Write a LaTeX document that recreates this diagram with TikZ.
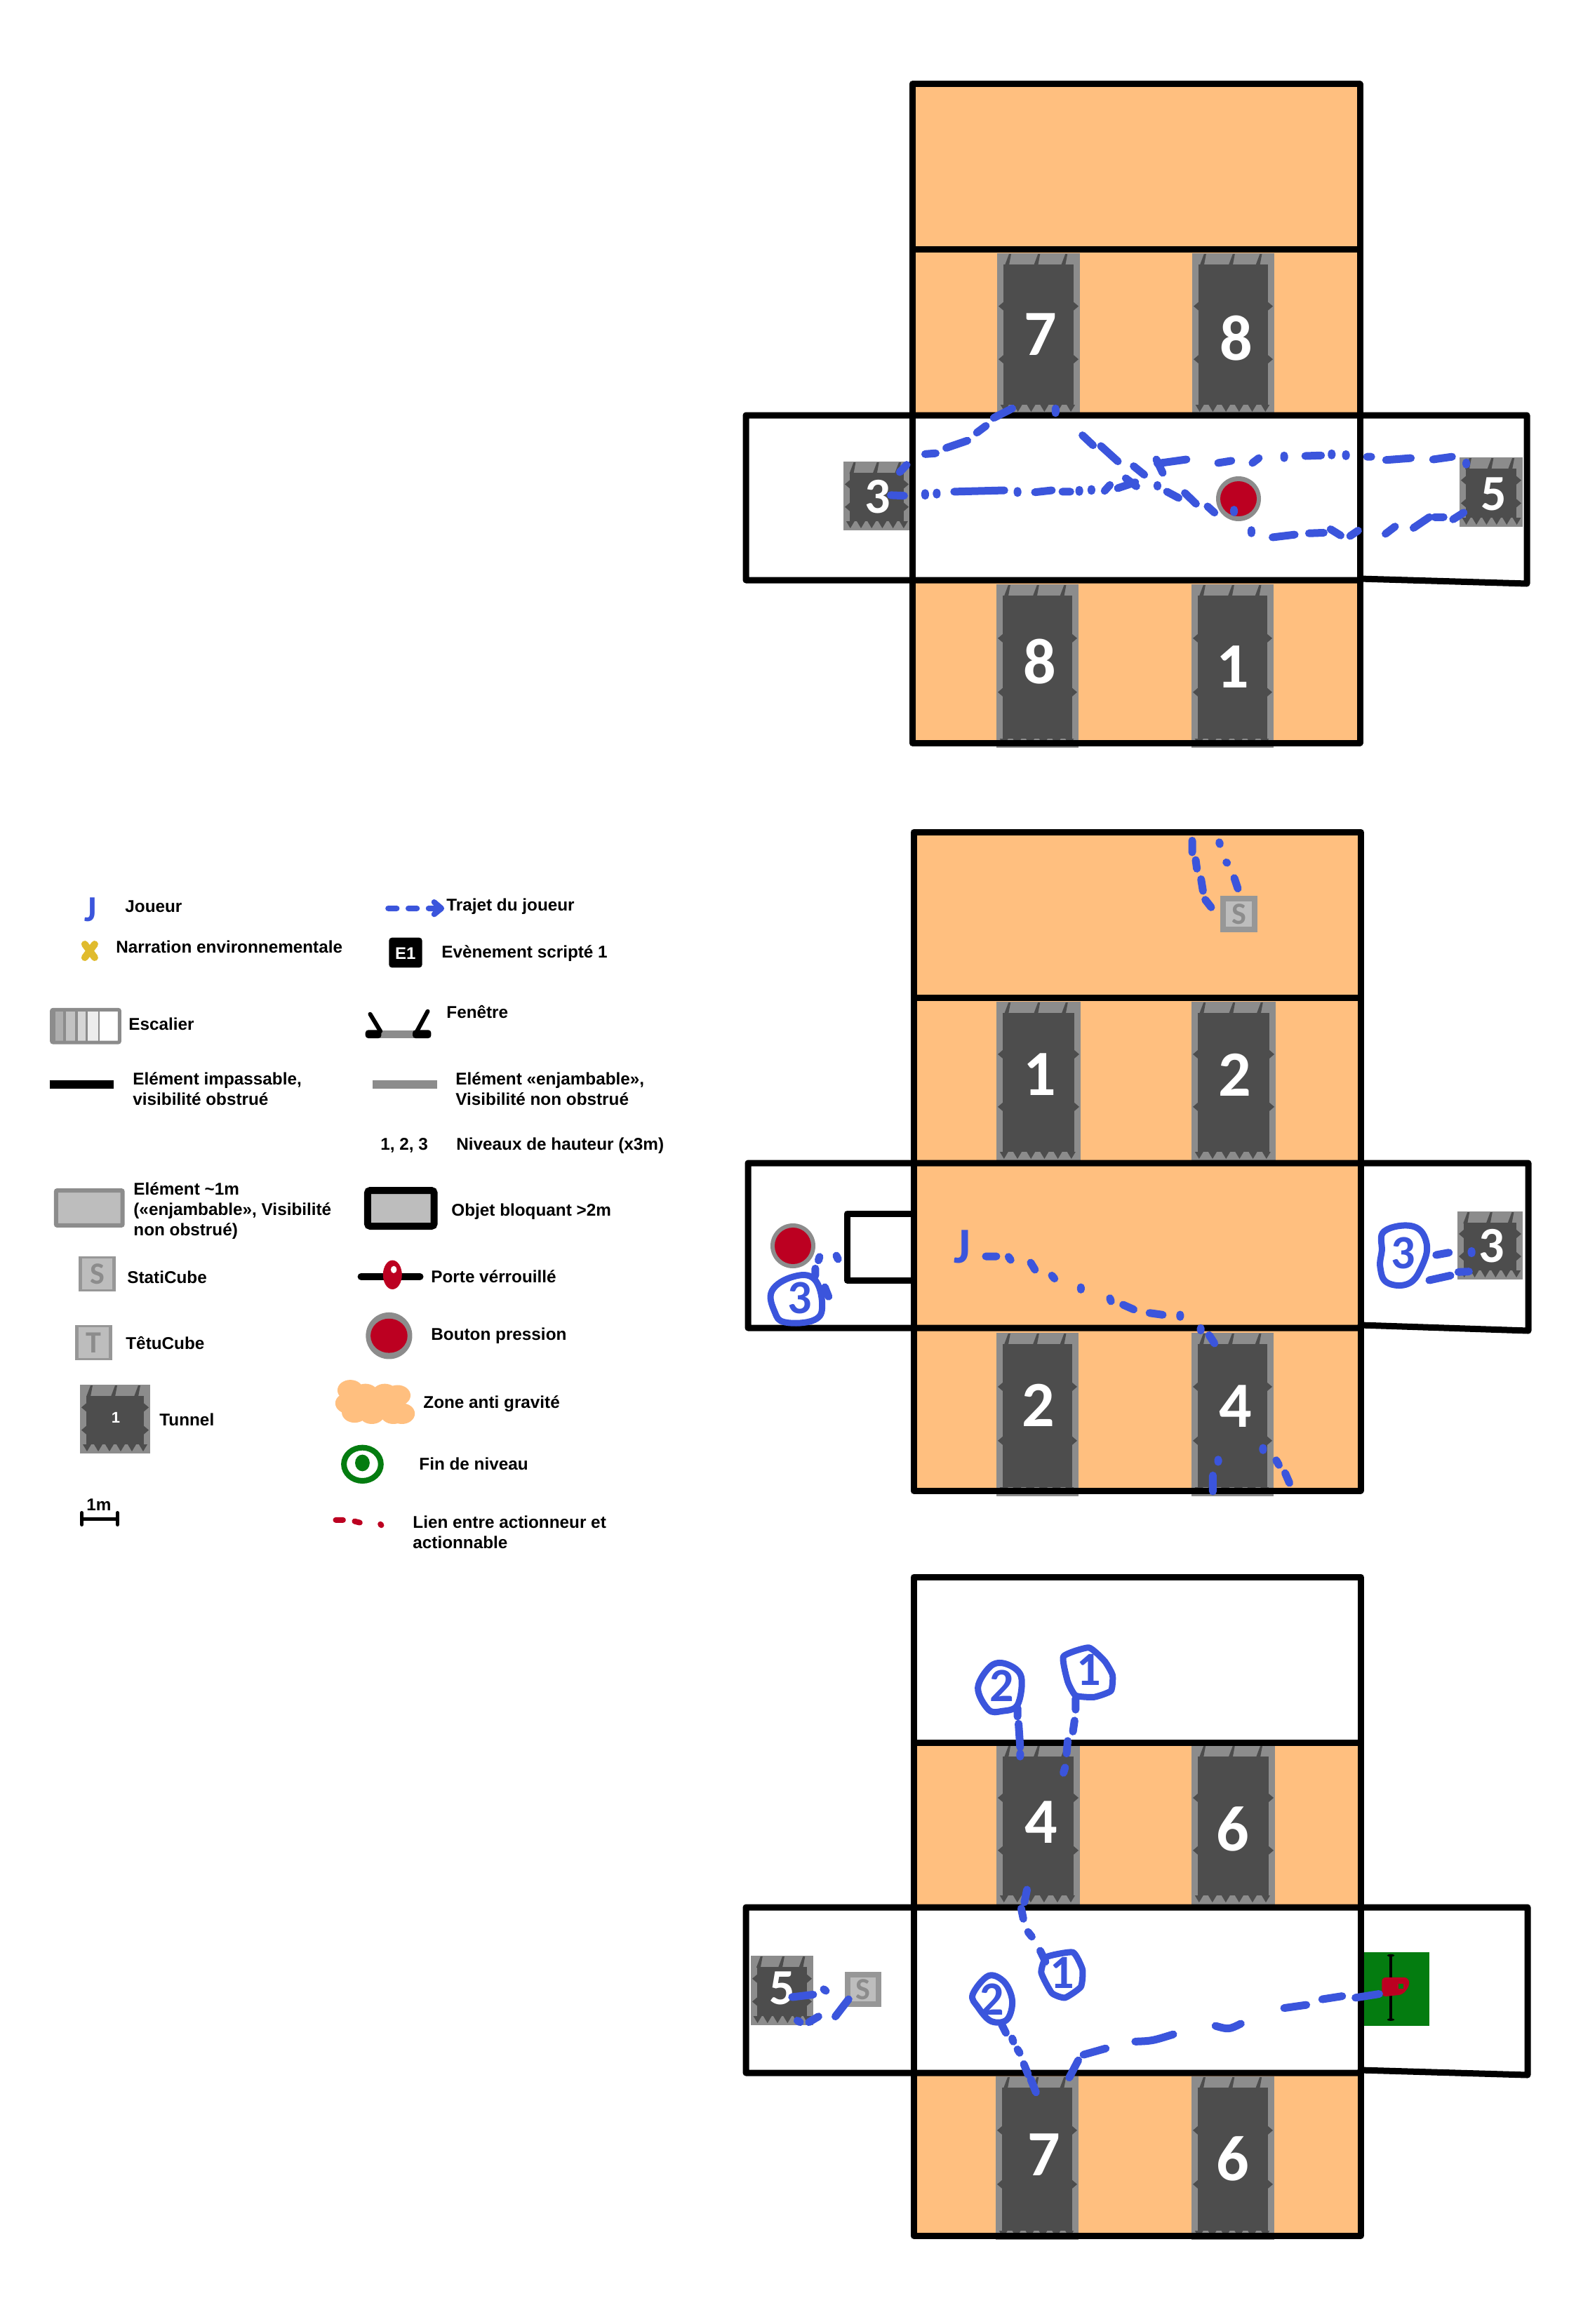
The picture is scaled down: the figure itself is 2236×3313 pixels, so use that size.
\documentclass[tikz,border=0pt]{standalone}
\usepackage{fontspec}
\setmainfont{Liberation Sans}
\newfontfamily\handfont{Carlito}
\definecolor{zone}{HTML}{FFBF7F}
\definecolor{tgray}{HTML}{8C8C8C}
\definecolor{tdark}{HTML}{4D4D4D}
\definecolor{trailblue}{HTML}{3B55DC}
\definecolor{btnred}{HTML}{BC0021}
\definecolor{cubeface}{HTML}{BDBDBD}
\definecolor{endgreen}{HTML}{047C10}
\definecolor{narr}{HTML}{E0BB2E}
\tikzset{
  wall/.style={draw=black,line width=4.5pt,line cap=round,line join=round},
  trail/.style={draw=trailblue,line width=5.5pt,line cap=round,line join=round},
  ring/.style={draw=trailblue,line width=4.5pt,line cap=round,line join=round},
  digit/.style={text=white,font=\handfont\bfseries\fontsize{46}{46}\selectfont,inner sep=0pt},
  smalldigit/.style={text=white,font=\handfont\bfseries\fontsize{36}{36}\selectfont,inner sep=0pt},
  bluedigit/.style={text=trailblue,font=\handfont\bfseries\fontsize{34}{34}\selectfont,inner sep=0pt},
  legtext/.style={anchor=west,align=left,inner sep=0pt,font=\bfseries\fontsize{12.15}{14.5}\selectfont},
  zA/.style={shift={(1040,500)},x=0.3762pt,y=-0.19135pt},
  zD/.style={shift={(1040,1640)},x=0.3762pt,y=-0.16667pt},
  zE/.style={shift={(1040,2330)},x=0.3762pt,y=-0.2232pt},
  zB/.style={shift={(40,1240)},x=0.3062pt,y=-0.16667pt},
  zC/.style={shift={(40,1660)},x=0.3062pt,y=-0.18498pt},
  zG/.style={shift={(1640,1170)},x=0.16667pt,y=-0.16667pt},
}
% tunnel: x1 y1 x2 y2
\newcommand\tunnelbody[4]{%
  \pgfmathsetmacro\tw{#3-#1}\pgfmathsetmacro\th{#4-#2}%
  \begin{scope}[shift={(#1,#2)}]
    \fill[tgray] (0,0) rectangle (\tw,\th);
    \fill[tdark] (9,16) rectangle (\tw-9,\th-13);
    \foreach \f in {0.11,0.46,0.79}{
      \fill[tdark] (\tw*\f-2,17) -- (\tw*\f+4,1) -- (\tw*\f+7,1) -- (\tw*\f+4,17) -- cycle;}
    \foreach \f in {0.04,0.2,0.36,0.52,0.68,0.84}{
      \fill[tdark] (\tw*\f,\th-13) -- (\tw*\f+6,\th-3) -- (\tw*\f+12,\th-13) -- cycle;}
    \foreach \f in {0.33,0.66}{
      \fill[tdark] (9,\th*\f-6) -- (2,\th*\f) -- (9,\th*\f+6) -- cycle;
      \fill[tdark] (\tw-9,\th*\f-6) -- (\tw-2,\th*\f) -- (\tw-9,\th*\f+6) -- cycle;}
  \end{scope}}
% cube: x1 y1 x2 y2 letter
\newcommand\cube[5]{%
  \fill[tgray!90!white] (#1,#2) rectangle (#3,#4);
  \fill[cubeface] (#1+8,#2+8) rectangle (#3-8,#4-8);
  \node[text=tgray,font=\handfont\bfseries\fontsize{22}{22}\selectfont,inner sep=0pt] at ({(#1+#3)/2},{(#2+#4)/2}) {#5};}
\begin{document}
\begin{tikzpicture}[x=0.5pt,y=-0.5pt]
\useasboundingbox (0,0) rectangle (2236,3313);
\fill[white] (0,0) rectangle (2236,3313);

%% PANEL 1
\fill[zone] (1300,120) rectangle (1938,592);
\fill[zone] (1300,827) rectangle (1938,1059);
\tunnelbody{1421}{361}{1539}{590}
\tunnelbody{1699}{361}{1816}{590}
\tunnelbody{1420}{833}{1537}{1066}
\tunnelbody{1698}{833}{1815}{1066}
\tunnelbody{1202}{658}{1297}{756}
\tunnelbody{2080}{652}{2170}{751}
\draw[wall] (1300,120) rectangle (1938,355);
\draw[wall] (1300,355) -- (1300,1059) -- (1938,1059) -- (1938,355);
\draw[wall] (1938,827) -- (1063,827) -- (1063,592) -- (2176,592) -- (2176,832) -- (1938,825);
\node[digit] (p1n7) at (1483,477) {7};
\node[digit] (p1n8) at (1762,482) {8};
\node[digit] (p1n8b) at (1482,943) {8};
\node[digit] (p1n1) at (1757,951) {1};
\node[smalldigit] (p1n3) at (1251,708) {3};
\node[smalldigit] (p1n5) at (2129,704) {5};
\fill[tgray] (1765,711) ellipse [x radius=32,y radius=32];
\fill[btnred] (1765,711) ellipse [x radius=26,y radius=25];
\begin{scope}[zA]
\draw[trail] (322,452)--(335,425) (370,385)--(390,382) (410,362)--(450,335) (468,305)--(485,280)
 (500,250)--(535,215) (617,215)--(617,232) (668,315)--(688,352) (703,355)--(735,412)
 (765,430)--(785,462) (810,500)--(810,506) (828,525)--(850,548) (862,530)--(883,570)
 (905,580)--(918,603) (955,592)--(955,602) (988,668)--(988,680) (1028,695)--(1070,685)
 (1097,680)--(1125,678) (1138,665)--(1157,688) (1175,690)--(1190,670) (1242,682)--(1260,655)
 (1295,660)--(1325,620) (1335,620)--(1352,620) (1370,628)--(1390,603);
\draw[trail] (305,538)--(330,540) (370,530)--(370,540) (392,528)--(392,536) (425,525)--(520,520)
 (545,522)--(545,530) (578,527)--(610,520) (630,525)--(645,525) (662,518)--(662,526)
 (685,515)--(685,522) (710,522)--(720,500) (735,512)--(768,490) (750,475)--(770,505)
 (808,405)--(820,455) (810,420)--(865,405) (925,418)--(950,410) (990,418)--(1002,400)
 (1050,390)--(1050,400) (1090,392)--(1120,390) (1140,382)--(1140,390) (1167,385)--(1167,393)
 (1207,395)--(1215,395) (1243,407)--(1290,400) (1332,405)--(1368,395) (1395,416)--(1395,424);
\end{scope}

%% PANEL 2
\fill[zone] (1302,1186) rectangle (1939,2125);
\tunnelbody{1420}{1428}{1540}{1655}
\tunnelbody{1698}{1428}{1818}{1655}
\tunnelbody{1420}{1900}{1537}{2133}
\tunnelbody{1698}{1900}{1815}{2133}
\tunnelbody{2077}{1727}{2170}{1824}
\draw[wall] (1302,1186) -- (1939,1186) -- (1939,1422) -- (1302,1422) -- cycle;
\draw[wall] (1302,1422) -- (1302,2125) -- (1939,2125) -- (1939,1422);
\draw[wall] (1939,1893) -- (1066,1893) -- (1066,1658) -- (2178,1658) -- (2178,1897) -- (1939,1889);
\draw[wall] (1302,1730) -- (1207,1730) -- (1207,1825) -- (1302,1825);
\node[digit] (p2n1) at (1482,1532) {1};
\node[digit] (p2n2) at (1760,1532) {2};
\node[digit] (p2n2b) at (1480,2003) {2};
\node[digit] (p2n4) at (1761,2005) {4};
\node[smalldigit] (p2n3) at (2126,1776) {3};
\fill[tgray] (1130,1776) ellipse [x radius=32,y radius=32];
\fill[btnred] (1130,1776) ellipse [x radius=26,y radius=26];
\cube{1739}{1277}{1792}{1329}{S}
\begin{scope}[zG]
\draw[trail] (177,85)--(177,135) (192,168)--(197,205) (215,250)--(223,300) (233,338)--(258,370)
 (293,92)--(295,100) (323,178)--(326,180) (357,245)--(372,290);
\end{scope}
\begin{scope}[zD]
\node[text=trailblue,font=\handfont\bfseries\fontsize{36}{36}\selectfont,inner sep=0pt] (p2j) at (440,412) {J};
\draw[trail] (485,453)--(505,453) (528,455)--(532,468) (570,480)--(578,510) (610,535)--(615,548)
 (665,585)--(665,595) (720,632)--(722,645) (745,660)--(765,680) (795,695)--(820,703)
 (853,702)--(853,712) (892,760)--(892,770) (908,790)--(918,825)
 (925,1322)--(925,1332) (915,1390)--(915,1458) (1010,1272)--(1010,1282) (1035,1325)--(1040,1345) (1052,1380)--(1060,1422)
 (202,450)--(205,465) (170,455)--(168,470) (162,505)--(162,535) (180,585)--(187,625)
 (1338,447)--(1362,437) (1405,430)--(1405,440) (1325,555)--(1365,535) (1380,520)--(1400,518);
\draw[ring] plot[smooth cycle,tension=0.7] coordinates {(1235,430) (1240,345) (1295,325) (1320,400) (1310,500) (1285,570) (1245,565) (1232,500)};
\draw[ring] plot[smooth cycle,tension=0.7] coordinates {(80,600) (120,540) (160,550) (175,660) (160,725) (105,735) (85,690)};
\node[bluedigit] (p2c3r) at (1275,438) {3};
\node[bluedigit] (p2c3l) at (133,632) {3};
\end{scope}

%% PANEL 3
\fill[zone] (1302,2484) rectangle (1939,2720);
\fill[zone] (1302,2955) rectangle (1939,3187);
\tunnelbody{1420}{2488}{1539}{2715}
\tunnelbody{1698}{2488}{1817}{2715}
\tunnelbody{1419}{2960}{1537}{3193}
\tunnelbody{1698}{2960}{1816}{3193}
\tunnelbody{1070}{2788}{1159}{2887}
\fill[endgreen] (1943,2783) rectangle (2037,2888);
\draw[wall] (1302,2248) -- (1939,2248) -- (1939,2484) -- (1302,2484) -- cycle;
\draw[wall] (1302,2484) -- (1302,3187) -- (1939,3187) -- (1939,2484);
\draw[wall] (1939,2955) -- (1063,2955) -- (1063,2719) -- (2177,2719) -- (2177,2958) -- (1939,2951);
\node[digit] (p3n4) at (1484,2598) {4};
\node[digit] (p3n6) at (1757,2607) {6};
\node[digit] (p3n7) at (1488,3072) {7};
\node[digit] (p3n6b) at (1757,3077) {6};
\node[smalldigit] (p3n5) at (1115,2834) {5};
\cube{1204}{2811}{1256}{2861}{S}
\begin{scope}[zE]
\draw[black,line width=2pt] (1252,1025) -- (1252,1230);
\fill[black] (1252,1025) ellipse [x radius=7,y radius=4];
\fill[black] (1252,1230) ellipse [x radius=7,y radius=4];
\fill[btnred,rounded corners=3pt] (1235,1095) -- (1285,1095) -- (1288,1120) -- (1275,1150) -- (1235,1157) -- cycle;
\fill[endgreen] (1266,1115) rectangle (1276,1132);
\draw[trail] (545,235)--(545,262) (547,285)--(550,360) (550,380)--(550,390) (655,205)--(655,240)
 (653,275)--(650,310) (640,340)--(638,380) (635,425)--(632,442)
 (563,815)--(558,855) (552,875)--(556,908) (565,950)--(572,965) (588,1010)--(598,1045)
 (515,1245)--(523,1272) (535,1290)--(537,1300) (545,1325)--(549,1336) (557,1372)--(565,1405) (570,1420)--(580,1462)
 (643,1415)--(660,1360) (670,1342)--(712,1322) (768,1300) .. controls (800,1298) .. (840,1277)
 (920,1250) .. controls (945,1262) .. (968,1243) (1050,1193)--(1092,1183) (1122,1165)--(1160,1155) (1185,1160)--(1230,1148)
 (118,1158)--(158,1150) (178,1133)--(182,1138) (128,1233)--(133,1238) (150,1238)--(168,1220) (200,1220)--(225,1165);
\draw[ring] plot[smooth cycle,tension=0.6] coordinates {(470,170) (495,100) (525,95) (552,135) (545,225) (515,245) (490,240)};
\draw[ring] plot[smooth cycle,tension=0.3] coordinates {(632,70) (680,42) (710,85) (725,130) (722,180) (690,200) (655,195) (640,150)};
\draw[ring] plot[smooth cycle,tension=0.3] coordinates {(590,1080) (600,1030) (650,1015) (668,1070) (665,1125) (635,1160) (610,1145)};
\draw[ring] plot[smooth cycle,tension=0.6] coordinates {(460,1150) (490,1090) (520,1110) (535,1170) (525,1230) (495,1235) (470,1190)};
\node[bluedigit] (p3c2t) at (515,165) {2};
\node[bluedigit] (p3c1t) at (680,112) {1};
\node[bluedigit] (p3c1m) at (630,1080) {1};
\node[bluedigit] (p3c2b) at (497,1165) {2};
\end{scope}

%% LEGEND
\node[legtext] (lJ) at (178,1292) {Joueur};
\node[legtext] (lT) at (636,1292) {Trajet du joueur};
\node[legtext] (lN) at (165,1350) {Narration environnementale};
\node[legtext] (lE) at (629,1359) {Evènement scripté 1};
\node[legtext] (lS) at (183,1460) {Escalier};
\node[legtext] (lF) at (636,1443) {Fenêtre};
\node[legtext] (lI) at (189,1552) {Elément impassable,\\visibilité obstrué};
\node[legtext] (lV) at (649,1552) {Elément «enjambable»,\\Visibilité non obstrué};
\node[legtext] (lH) at (542,1633) {1, 2, 3};
\node[legtext] (lN3) at (650,1633) {Niveaux de hauteur (x3m)};
\node[legtext] (l1) at (190,1726) {Elément \textasciitilde1m\\(«enjambable», Visibilité\\non obstrué)};
\node[legtext] (lO) at (643,1727) {Objet bloquant >2m};
\node[legtext] (lSC) at (181,1821) {StatiCube};
\node[legtext] (lP) at (614,1820) {Porte vérrouillé};
\node[legtext] (lTC) at (179,1915) {TêtuCube};
\node[legtext] (lB) at (614,1904) {Bouton pression};
\node[legtext] (lTu) at (227,2024) {Tunnel};
\node[legtext] (lZ) at (603,2001) {Zone anti gravité};
\node[legtext] (lFi) at (597,2087) {Fin de niveau};
\node[legtext,anchor=center] (l1m) at (141,2145) {1m};
\node[legtext] (lL) at (588,2184) {Lien entre actionneur et\\actionnable};

\begin{scope}[zB]
\node[text=trailblue,font=\handfont\bfseries\fontsize{26}{26}\selectfont,inner sep=0pt] (lgJ) at (145,170) {J};
\draw[draw=narr,line width=5pt,line cap=round] (132,318)--(155,375) (155,318)--(132,375);
\draw[trail,line width=4pt] (838,165)--(858,165) (885,165)--(905,165) (932,165)--(960,165) (945,138)--(962,165)--(945,190);
\fill[black,rounded corners=2pt] (840,290) rectangle (917,418);
\node[text=white,font=\bfseries\fontsize{12}{12}\selectfont,inner sep=0pt] (lgE) at (878,358) {E1};
% stairs
\fill[white] (55,598) rectangle (213,738);
\fill[black!32] (55,598) rectangle (85,738);
\fill[black!24] (85,598) rectangle (112,738);
\fill[black!16] (112,598) rectangle (137,738);
\fill[black!7] (137,598) rectangle (165,738);
\draw[tgray,line width=2pt] (60,598)--(60,738);
\draw[tgray,line width=2pt] (85,598)--(85,738);
\draw[tgray,line width=2pt] (112,598)--(112,738);
\draw[tgray,line width=1.5pt] (137,598)--(137,738);
\draw[tgray,line width=1pt] (165,598)--(165,738);
\draw[tgray,line width=2.5pt,rounded corners=1pt] (55,598) rectangle (213,738);
% window
\fill[black!45] (815,688) rectangle (900,720);
\fill[black,rounded corners=2pt] (785,685) rectangle (822,720);
\fill[black,rounded corners=2pt] (895,685) rectangle (938,720);
\draw[black,line width=3pt,line cap=round] (796,617)--(820,690) (930,605)--(905,690);
% bars
\draw[black,line width=6pt] (50,917)--(200,917);
\draw[black!45,line width=6pt] (802,917)--(952,917);
\end{scope}
\begin{scope}[zC]
\draw[tgray,fill=cubeface,line width=3pt,rounded corners=1pt] (65,100) rectangle (220,235);
\draw[black,fill=cubeface,line width=5pt,rounded corners=2pt] (790,100) rectangle (945,238);
\cube{118}{355}{204}{490}{S}
\cube{110}{620}{196}{755}{T}
\draw[black,line width=5pt,line cap=round] (775,432)--(912,432);
\fill[btnred] (848,425) ellipse [x radius=22,y radius=56];
\fill[white] (851,405) ellipse [x radius=7,y radius=14];
\fill[tgray] (840,660) ellipse [x radius=54,y radius=90];
\fill[btnred] (840,660) ellipse [x radius=43,y radius=66];
\foreach \p/\q in {750/870,785/885,745/920,760/955,800/960,830/885,860/890,850/960,870/960,830/920,790/925}{
  \fill[zone] (\p,\q) ellipse [x radius=30,y radius=40];}
\draw[endgreen,line width=4pt] (778,1155) ellipse [x radius=43,y radius=64];
\fill[endgreen] (778,1150) ellipse [x radius=17,y radius=32];
\draw[black,line width=2.5pt] (125,1365)--(208,1365);
\draw[black,line width=2.5pt,line cap=round] (125,1342)--(125,1388) (208,1342)--(208,1388);
\draw[btnred,line width=4pt,line cap=round] (716,1370)--(733,1370) (760,1375)--(772,1380) (820,1386)--(822,1390);
\end{scope}
\tunnelbody{114}{1974}{214}{2072}
\node[text=white,font=\bfseries\fontsize{11}{11}\selectfont,inner sep=0pt] (lgT) at (165,2021) {1};
\end{tikzpicture}
\end{document}
